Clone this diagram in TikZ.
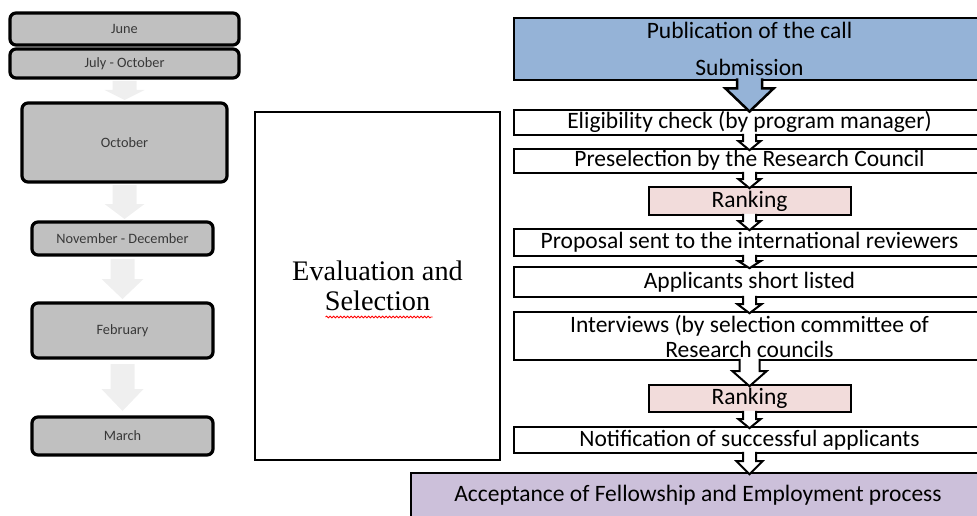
\documentclass[tikz,border=0pt]{standalone}
\usepackage{fontspec}
\newfontfamily\calibri{Carlito}
\newfontfamily\timesfont{Liberation Serif}
\usetikzlibrary{calc,decorations.pathmorphing}
\definecolor{monthgray}{HTML}{C0C0C0}
\definecolor{monthtext}{HTML}{383838}
\definecolor{fadegray}{HTML}{EFEFEF}
\definecolor{callblue}{HTML}{95B3D7}
\definecolor{rankpink}{HTML}{F2DCDB}
\definecolor{acceptlilac}{HTML}{CCC0DA}
% block arrow: [style]{from}{to}{shaft half}{head half}{head length}{gap}
\newcommand\blockarr[7][]{%
  \path[#1] let \p1=(#2.south), \p2=(#3.north) in
    ({\x1-#4},{\y1-(#7)}) -- ({\x1-#4},{\y2+(#7)+#6}) -- ({\x1-#5},{\y2+(#7)+#6}) -- (\x1,{\y2+(#7)})
    -- ({\x1+#5},{\y2+(#7)+#6}) -- ({\x1+#4},{\y2+(#7)+#6}) -- ({\x1+#4},{\y1-(#7)});}
\begin{document}
\begin{tikzpicture}[x=1pt,y=-1pt,
    month/.style={draw, line width=3.2pt, rounded corners=6pt, fill=monthgray, text=monthtext,
      font=\calibri\fontsize{14.3}{16}\selectfont, inner sep=0pt, outer sep=0pt},
    stage/.style={draw, line width=2pt, fill=white, font=\calibri\fontsize{23.5}{25}\selectfont,
      inner sep=0pt, outer sep=0pt, minimum width=471pt},
    oneline/.style={text height=12pt, text depth=0pt},
    rankbox/.style={stage, oneline, fill=rankpink, minimum width=202pt},
    fadearrow/.style={fill=fadegray},
    linearrow/.style={fill=white, draw, line width=2pt}]
\useasboundingbox (0,0) rectangle (977,516);
\clip (0,0) rectangle (977,516);

% months
\node[month, minimum width=229pt, minimum height=32pt] (june) at (124.5,29) {June};
\node[month, minimum width=229pt, minimum height=29pt] (julyoct) at (124.5,63.5) {July - October};
\node[month, minimum width=205pt, minimum height=79pt] (oct) at (124.5,142.5) {October};
\node[month, minimum width=181pt, minimum height=33pt] (novdec) at (122.5,238.5) {November - December};
\node[month, minimum width=181pt, minimum height=55pt] (feb) at (122.5,330.5) {February};
\node[month, minimum width=181pt, minimum height=38pt] (march) at (122.5,436) {March};
\blockarr[fadearrow]{julyoct}{oct}{12pt}{20pt}{10pt}{3pt}
\blockarr[fadearrow]{oct}{novdec}{12pt}{20pt}{15pt}{3pt}
\blockarr[fadearrow]{novdec}{feb}{12pt}{21pt}{20pt}{4pt}
\blockarr[fadearrow]{feb}{march}{12pt}{21pt}{22pt}{6pt}

% evaluation
\node[draw, line width=2.5pt, minimum width=245pt, minimum height=348pt, inner sep=0pt, align=center,
  font=\timesfont\fontsize{28.3}{30}\selectfont] (evalsel) at (377.5,286) {Evaluation and\\Selection};
\draw[red, line width=0.8pt, decorate, decoration={snake, amplitude=0.9pt, segment length=3.5pt}]
  ($(evalsel.center)+(-52,31)$) -- ($(evalsel.center)+(55,31)$);

% stages
\node[stage, fill=callblue, line width=2.5pt, minimum height=62pt, align=center,
  font=\calibri\fontsize{23.5}{37}\selectfont] (call) at (749.5,49) {Publication of the call\\Submission};
\node[stage, oneline, minimum height=25pt] (elig) at (749.5,122.5) {Eligibility check (by program manager)};
\node[stage, oneline, minimum height=24pt] (presel) at (749.5,161) {Preselection by the Research Council};
\node[rankbox, minimum height=28pt] (rankA) at (749.5,201) {Ranking};
\node[stage, oneline, minimum height=27pt] (review) at (749.5,242.5) {Proposal sent to the international reviewers};
\node[stage, oneline, minimum height=30pt] (short) at (749.5,282) {Applicants short listed};
\node[stage, minimum height=48pt, align=center] (interv) at (749.5,336) {Interviews (by selection committee of\\Research councils};
\node[rankbox, minimum height=27pt] (rankB) at (749.5,398.5) {Ranking};
\node[stage, oneline, minimum height=26pt] (notif) at (749.5,440) {Notification of successful applicants};
\node[stage, oneline, fill=acceptlilac, minimum width=574pt, minimum height=45pt] (accept) at (698,495.5) {Acceptance of Fellowship and Employment process};

\blockarr[linearrow, fill=callblue, line width=2.5pt]{call}{elig}{12.5pt}{24pt}{23pt}{-1.5pt}
\blockarr[linearrow]{elig}{presel}{6.5pt}{11pt}{9pt}{-1.2pt}
\blockarr[linearrow]{presel}{rankA}{6.5pt}{11pt}{9pt}{-1.2pt}
\blockarr[linearrow]{rankA}{review}{6.5pt}{11pt}{9pt}{-1.2pt}
\blockarr[linearrow]{review}{short}{6.5pt}{11pt}{7pt}{-1.2pt}
\blockarr[linearrow]{short}{interv}{6.5pt}{12pt}{9pt}{-1.2pt}
\blockarr[linearrow]{interv}{rankB}{10pt}{17pt}{15pt}{-1.2pt}
\blockarr[linearrow]{rankB}{notif}{6.5pt}{11pt}{9pt}{-1.2pt}
\blockarr[linearrow]{notif}{accept}{6.5pt}{13pt}{13pt}{-1.2pt}
\end{tikzpicture}
\end{document}
